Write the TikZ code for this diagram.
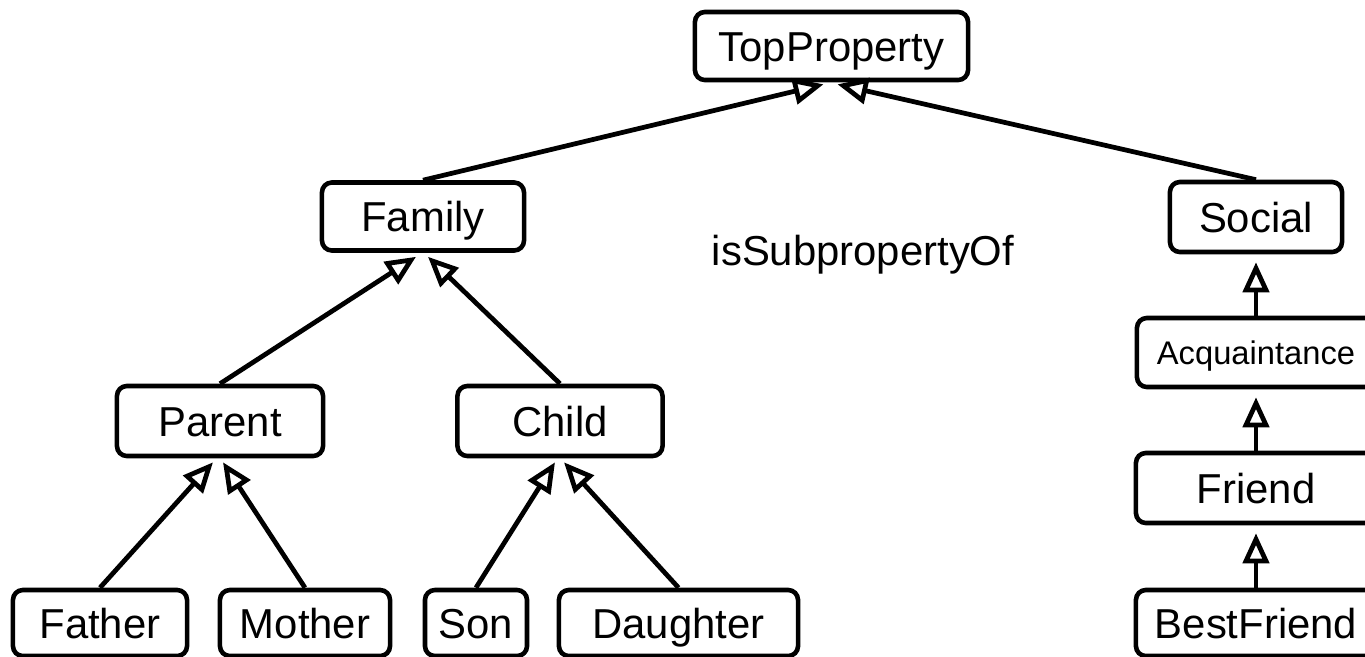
\documentclass[tikz,border=0pt]{standalone}
\usepackage{fontspec}
\setmainfont{Liberation Sans}
\usetikzlibrary{arrows.meta}
\tikzset{
  prop/.style={draw, line width=1.3pt, rounded corners=0.1cm, inner sep=0pt,
    font=\fontsize{11.9}{14}\selectfont, text height=0.3cm, text depth=0pt,
    minimum height=0.68cm},
  small/.style={font=\fontsize{9.3}{11}\selectfont, text height=0.235cm},
  isa/.style={line width=1.35pt,
    -{Triangle[open, length=0.3cm, width=0.26cm, line width=1.35pt]}},
  plain/.style={font=\fontsize{11.9}{14}\selectfont}
}
\begin{document}
\begin{tikzpicture}[x=0.01cm, y=-0.01cm]
\useasboundingbox (0,0) rectangle (1365,657);
\clip (0,0) rectangle (1365,657);

% root
\node[prop, minimum width=2.73cm] (top) at (831.5,46) {TopProperty};

% family branch
\node[prop, minimum width=2.02cm] (fam) at (423,216.5) {Family};
\node[prop, minimum width=2.06cm, minimum height=0.70cm] (par) at (220,421) {Parent};
\node[prop, minimum width=2.05cm, minimum height=0.70cm] (chi) at (560,421) {Child};
\node[prop, minimum width=1.74cm, minimum height=0.66cm] (fat) at (100,623) {Father};
\node[prop, minimum width=1.70cm, minimum height=0.66cm] (mot) at (305,623) {Mother};
\node[prop, minimum width=1.02cm, minimum height=0.66cm] (son) at (476,623) {Son};
\node[prop, minimum width=2.39cm, minimum height=0.66cm] (dau) at (678.5,623) {Daughter};

% social branch
\node[prop, minimum width=1.72cm, minimum height=0.70cm] (soc) at (1256,217) {Social};
\node[prop, small, minimum width=2.38cm, minimum height=0.69cm] (acq) at (1256,352.5) {Acquaintance};
\node[prop, minimum width=2.40cm, minimum height=0.70cm] (fri) at (1256,488) {Friend};
\node[prop, minimum width=2.40cm, minimum height=0.66cm] (bf) at (1256,623) {BestFriend};

% label
\node[plain] (lbl) at (863,255) {isSubpropertyOf};

% subproperty links
\draw[isa] (fam.north) -- ([xshift=-0.08cm, yshift=-0.02cm]top.south);
\draw[isa] (soc.north) -- ([xshift=0.06cm, yshift=-0.02cm]top.south);
\draw[isa] (par.north) -- ([xshift=-0.07cm, yshift=-0.04cm]fam.south);
\draw[isa] (chi.north) -- ([xshift=0.05cm, yshift=-0.04cm]fam.south);
\draw[isa] (fat.north) -- ([xshift=-0.07cm, yshift=-0.04cm]par.south);
\draw[isa] (mot.north) -- ([xshift=0.03cm, yshift=-0.04cm]par.south);
\draw[isa] (son.north) -- ([xshift=-0.05cm, yshift=-0.04cm]chi.south);
\draw[isa] (dau.north) -- ([xshift=0.04cm, yshift=-0.04cm]chi.south);
\draw[isa] (acq.north) -- ([yshift=-0.08cm]soc.south);
\draw[isa] (fri.north) -- ([yshift=-0.08cm]acq.south);
\draw[isa] (bf.north) -- ([yshift=-0.08cm]fri.south);
\end{tikzpicture}
\end{document}
